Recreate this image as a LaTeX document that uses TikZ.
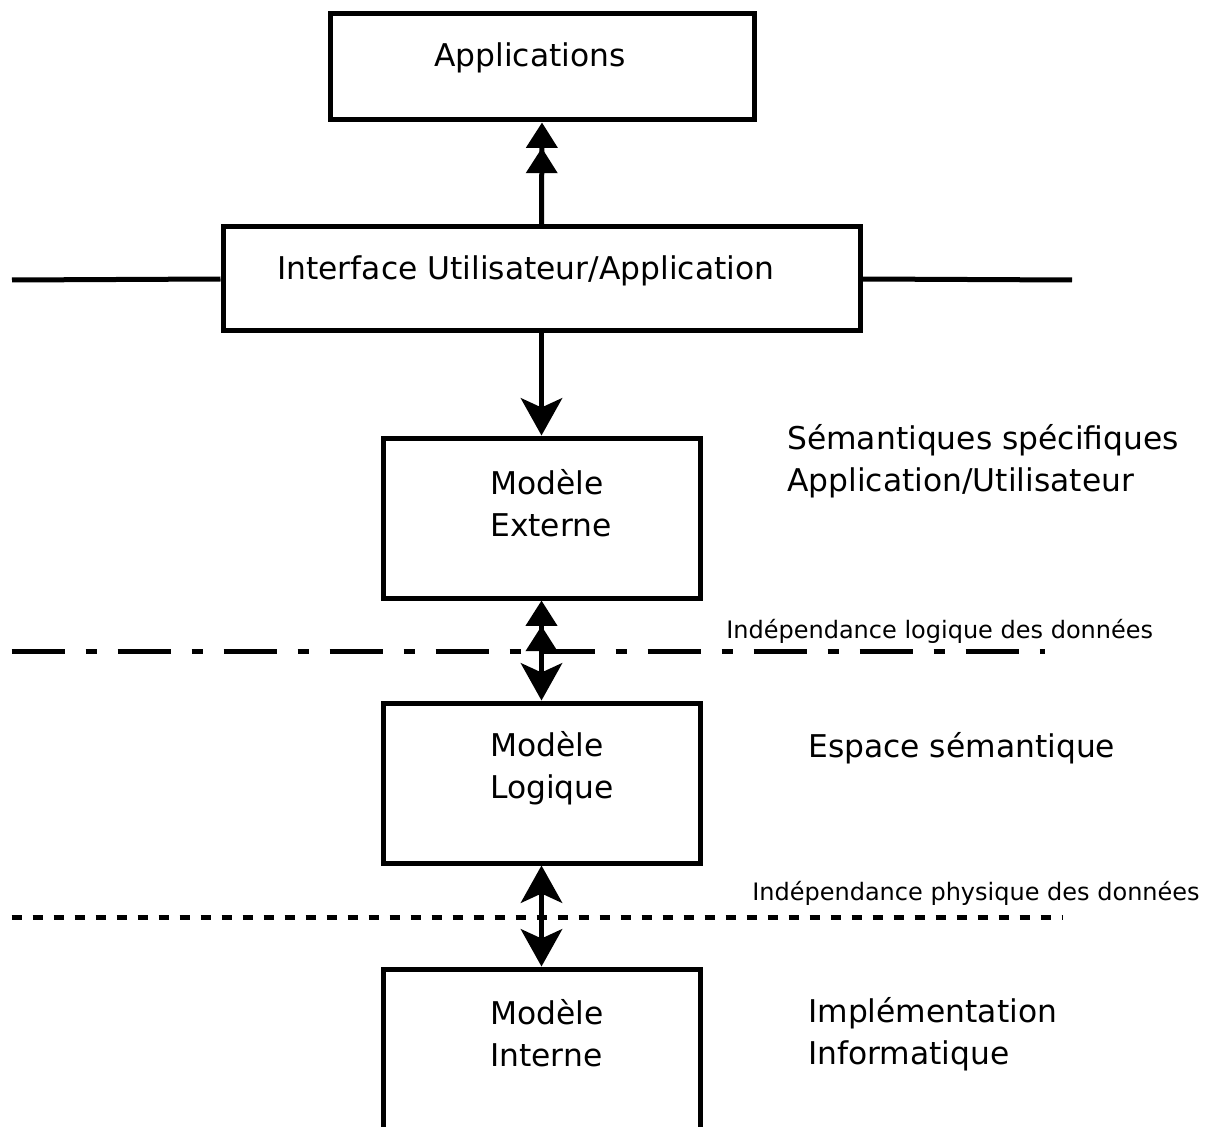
\documentclass[tikz,border=0pt]{standalone}
\usepackage{fontspec}
\setmainfont{DejaVu Sans}
\usetikzlibrary{arrows.meta, positioning}

\tikzset{
  boite/.style={draw, line width=3.75pt, inner sep=0pt},
  grand/.style={font=\fontsize{23.5}{31.5}\selectfont, inner sep=0pt, align=left},
  petit/.style={font=\fontsize{18}{22}\selectfont, inner sep=0pt, anchor=west},
  fleche/.style={line width=3.75pt},
  tri/.tip={Triangle[length=19pt, width=23pt]},
  pointe/.tip={Stealth[length=28pt, width=31pt, inset=7pt]},
}

\begin{document}
\begin{tikzpicture}[x=0.75pt, y=-0.75pt]
  \useasboundingbox (0,0) rectangle (1208,1127);

  % boites
  \node[boite, minimum width=318pt, minimum height=79.5pt] (app) at (542,67) {};
  \node[boite, minimum width=477.75pt, minimum height=78pt] (ifc) at (541.5,279) {};
  \foreach \N/\Y in {ext/518, log/783, int/1049}
    \node[boite, minimum width=237.75pt, minimum height=120pt] (\N) at (541.5,\Y) {};

  % textes des boites
  \node[grand] (tapp) at (530,58) {Applications};
  \node[grand, anchor=west] (tifc) at (277,271) {Interface Utilisateur/Application};
  \node[grand, anchor=west] (text) at (490,503) {Modèle\\Externe};
  \node[grand, anchor=west] (tlog) at (490,768.5) {Modèle\\Logique};
  \node[grand, anchor=west] (tint) at (490,1033) {Modèle\\Interne};

  % textes a droite
  \node[grand, anchor=west] (sem) at (787,461) {Sémantiques spécifiques\\Application/Utilisateur};
  \node[grand, anchor=west] (esp) at (808,748) {Espace sémantique};
  \node[grand, anchor=west] (impl) at (808,1034) {Implémentation\\Informatique};
  \node[petit] (ilog) at (726,631) {Indépendance logique des données};
  \node[petit] (iphy) at (752,893) {Indépendance physique des données};

  % lignes horizontales
  \coordinate (g) at (12,280);
  \coordinate (d) at (1072,280);
  \draw[fleche] (g) -- (ifc.west);
  \draw[fleche] (ifc.east) -- (d);
  \coordinate (g1) at (11.5,651);
  \coordinate (d1) at (1045,651);
  \draw[fleche, dash pattern=on 39.75pt off 15.75pt on 8.25pt off 15.75pt] (g1) -- (d1);
  \coordinate (g2) at (11.5,917);
  \coordinate (d2) at (1062,917);
  \draw[fleche, dash pattern=on 7.5pt off 8.25pt] (g2) -- (d2);

  % fleches
  \draw[fleche, -{tri[]tri[]}] (ifc.north) -- (app.south);
  \draw[fleche, -{pointe[]}] (ifc.south) -- (ext.north);
  \draw[fleche, {pointe[]}-{tri[]tri[]}] (log.north) -- (ext.south);
  \draw[fleche, {pointe[]}-{pointe[]}] (int.north) -- (log.south);
\end{tikzpicture}
\end{document}
